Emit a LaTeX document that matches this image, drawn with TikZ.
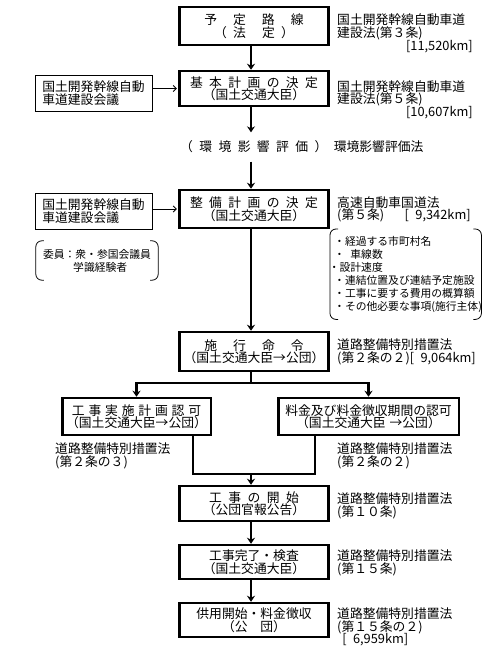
\documentclass[tikz,border=0pt]{standalone}
\usepackage{fontspec}
\setmainfont{Noto Sans CJK JP}
\usetikzlibrary{arrows.meta,calc}
\setlength\lineskiplimit{-20pt}
\newcommand\myhs{\hspace{0.5em}}
\newcommand\myws{\hspace{1.25em}}
\newcommand\myts{\hspace{0.3em}}
\newcommand\mymf{\fontsize{12.8pt}{12.5pt}\selectfont}
\newcommand\mysf{\fontsize{10.8pt}{13pt}\selectfont}
\begin{document}
\begin{tikzpicture}[x=1pt,y=-1pt,
  mainbox/.style={draw, line width=2.5pt, minimum width=149pt, inner sep=0pt, align=center, font=\mymf},
  sidebox/.style={draw, line width=0.8pt, minimum width=117pt, minimum height=36pt, inner sep=0pt, align=left, font=\mymf},
  lawtext/.style={anchor=west, inner sep=0pt, align=left, font=\mymf},
  conn/.style={line width=2.5pt, line join=miter},
  tipf/.tip={Stealth[length=6pt,width=8pt,inset=2pt]},
  arr/.style={conn, -tipf},
  thinarr/.style={line width=0.8pt, -{Straight Barb[length=3pt,width=6pt]}, shorten >=1.5pt},
  brack/.style={line width=0.8pt, rounded corners=6pt}]
\fill[white] (0,0) rectangle (500,650);
\coordinate (axis) at (251,0);
% main column
\node[mainbox, minimum height=38pt] (B1) at (254,26) {予\myws 定\myws 路\myws 線\\（\myhs 法\myws 定\myhs ）};
\node[mainbox, minimum height=35pt] (B2) at (254,88.5) {基\myhs 本\myhs 計\myhs 画\myhs の\myhs 決\myhs 定\\（国土交通大臣）};
\node[anchor=west, inner sep=0pt, minimum height=29pt, font=\mymf] (ENV) at (180,147) {（\myhs 環\myhs 境\myhs 影\myhs 響\myhs 評\myhs 価\myhs ）\myhs 環境影響評価法};
\node[mainbox, minimum height=38pt] (B3) at (254,209) {整\myhs 備\myhs 計\myhs 画\myhs の\myhs 決\myhs 定\\（国土交通大臣）};
\node[mainbox, minimum height=39pt] (B4) at (254,351.5) {施\myws 行\myws 命\myws 令\\（国土交通大臣→公団）};
\node[mainbox, minimum width=148.5pt, minimum height=37pt] (B5) at (136.5,416.5) {工\myts 事\myts 実\myts 施\myts 計\myts 画\myts 認\myts 可\\（国土交通大臣→公団）};
\node[mainbox, minimum width=180.5pt, minimum height=37pt] (B6) at (368.5,416.5) {料金及び料金徴収期間の認可\\（国土交通大臣\myts →公団）};
\node[mainbox, minimum height=35pt] (B7) at (254,503.5) {工\myhs 事\myhs の\myhs 開\myhs 始\\（公団官報公告）};
\node[mainbox, minimum height=34pt] (B8) at (254,562) {工事完了・検査\\（国土交通大臣）};
\node[mainbox, minimum height=34pt] (B9) at (254,620) {供用開始・料金徴収\\（公\hspace{1em}団）};
% left boxes
\node[sidebox] (L1) at (93.5,93) {国土開発幹線自動\\車道建設会議};
\node[sidebox] (L2) at (93.5,211) {国土開発幹線自動\\車道建設会議};
\node[minimum width=122pt, minimum height=39pt, inner sep=0pt, align=center, font=\mysf] (M) at (97,260.5) {委員：衆・参国会議員\\\hspace*{0.6em}学識経験者};
\draw[brack] ($(M.north west)+(8,0)$) -- (M.north west) -- (M.south west) -- ($(M.south west)+(8,0)$);
\draw[brack] ($(M.north east)+(-8,0)$) -- (M.north east) -- (M.south east) -- ($(M.south east)+(-8,0)$);
% list
\node[anchor=north west, minimum width=151pt, minimum height=90pt, text width=143pt, inner xsep=4pt, inner ysep=0pt, align=left, font=\mysf] (LIST) at (330,229) {・経過する市町村名\\・\myhs 車線数\\\hspace*{-0.5em}・設計速度\\・連結位置及び連結予定施設\\・工事に要する費用の概算額\\・その他必要な事項(施行主体)};
\draw[brack] ($(LIST.north west)+(8,0)$) -- (LIST.north west) -- (LIST.south west) -- ($(LIST.south west)+(8,0)$);
\draw[brack] ($(LIST.north east)+(-8,0)$) -- (LIST.north east) -- (LIST.south east) -- ($(LIST.south east)+(-8,0)$);
% law labels
\node[lawtext] (R1) at (337,27) {国土開発幹線自動車道\\建設法(第３条)};
\node[lawtext, anchor=east] (K1) at (473,47) {[11,520km]};
\node[lawtext] (R2) at (337,93.5) {国土開発幹線自動車道\\建設法(第５条)};
\node[lawtext, anchor=east] (K2) at (473,113) {[10,607km]};
\node[lawtext] (R3) at (337,209.5) {高速自動車国道法\\(第５条)\hspace{1.6em}[\myhs 9,342km]};
\node[lawtext] (R4) at (337,352) {道路整備特別措置法\\(第２条の２)[\myhs 9,064km]};
\node[lawtext] (L5T) at (55,456) {道路整備特別措置法\\(第２条の３)};
\node[lawtext] (R6) at (337,456) {道路整備特別措置法\\(第２条の２)};
\node[lawtext] (R7) at (337,506) {道路整備特別措置法\\(第１０条)};
\node[lawtext] (R8) at (337,563) {道路整備特別措置法\\(第１５条)};
\node[lawtext] (R9) at (337,627) {道路整備特別措置法\\(第１５条の２)\\\hspace*{0.4em}[\myhs 6,959km]};
% connectors
\draw[arr] (B1.south -| axis) -- (B2.north -| axis);
\draw[arr] (B2.south -| axis) -- (ENV.north -| axis);
\draw[arr] (ENV.south -| axis) -- (B3.north -| axis);
\draw[arr] (B3.south -| axis) -- (B4.north -| axis);
\coordinate (S) at (251,383);
\draw[conn] (B4.south -| axis) -- (S);
\draw[conn, tipf-tipf] (B5.north) -- (B5.north |- S) -- (B6.north |- S) -- (B6.north);
\coordinate (j5) at ($(B5.south)+(56.5,0)$);
\coordinate (j6) at ($(B6.south)+(-53.5,0)$);
\coordinate (J) at (251,474);
\draw[conn] (j5) -- (j5 |- J) -- (j6 |- J) -- (j6);
\draw[arr] (J) -- (B7.north -| axis);
\draw[arr] (B7.south -| axis) -- (B8.north -| axis);
\draw[arr] (B8.south -| axis) -- (B9.north -| axis);
\draw[thinarr] (L1.east |- B2.west) -- (B2.west);
\draw[thinarr] (L2.east |- B3.west) -- (B3.west);
\end{tikzpicture}
\end{document}
